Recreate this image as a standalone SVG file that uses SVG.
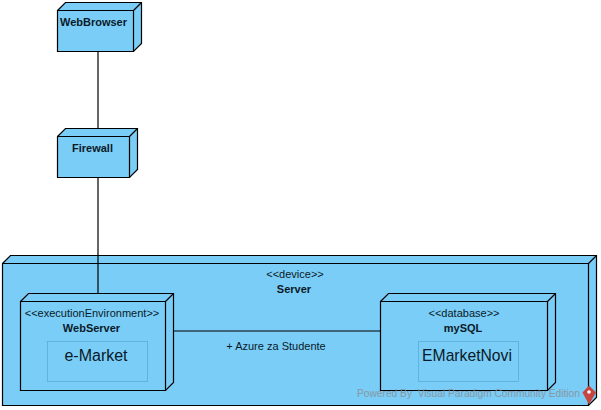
<svg xmlns="http://www.w3.org/2000/svg" width="601" height="410" viewBox="0 0 601 410">
<style>
.n{fill:#7acdf7;stroke:#000;stroke-width:1.2;stroke-linejoin:miter}
.e{fill:none;stroke:#000;stroke-width:1.2}
.a{fill:none;stroke:#4fa6d2;stroke-width:.8;opacity:.8}
text{font-family:"Liberation Sans",Arial,sans-serif;fill:#0a1a28;text-anchor:middle}
.s{font-size:11px}
.b{font-size:11px;font-weight:bold}
.l{font-size:16px}
</style>
<rect width="601" height="410" fill="#fff"/>
<g id="connectors">
<path class="e" d="M98 51V128M98 177V255"/>
</g>
<g id="WebBrowser">
<path class="n" d="M57.500 10.500L65.500 2.500H141.500V43.500L133.500 51.500H57.500Z"/>
<path class="e" d="M57.500 10.500H133.500V51.500M133.500 10.500L141.500 2.500"/>
<text class="b" x="93.500" y="26">WebBrowser</text>
</g>
<g id="Firewall">
<path class="n" d="M57.500 136.500L65.500 128.500H137.500V169.500L129.500 177.500H57.500Z"/>
<path class="e" d="M57.500 136.500H129.500V177.500M129.500 136.500L137.500 128.500"/>
<text class="b" x="92.500" y="152">Firewall</text>
</g>
<g id="Server">
<path class="n" d="M2.500 263.500L10.500 255.500H596.500V397.500L588.500 405.500H2.500Z"/>
<path class="e" d="M2.500 263.500H588.500V405.500M588.500 263.500L596.500 255.500"/>
<text class="s" x="295" y="278">&lt;&lt;device&gt;&gt;</text>
<text class="b" x="294" y="293">Server</text>
</g>
<g id="connectors-inner">
<path class="e" d="M98 255V293M174 331H380"/>
<text class="s" x="276" y="350">+ Azure za Studente</text>
</g>
<g id="WebServer">
<path class="n" d="M20.500 301.500L28.500 293.500H173.500V382.500L165.500 390.500H20.500Z"/>
<path class="e" d="M20.500 301.500H165.500V390.500M165.500 301.500L173.500 293.500"/>
<text class="s" x="92" y="317">&lt;&lt;executionEnvironment&gt;&gt;</text>
<text class="b" x="91.500" y="332">WebServer</text>
<rect class="a" x="47.500" y="341.500" width="100" height="40"/>
<text class="l" x="96" y="361">e-Market</text>
</g>
<g id="mySQL">
<path class="n" d="M380.500 301.500L388.500 293.500H555.500V382.500L547.500 390.500H380.500Z"/>
<path class="e" d="M380.500 301.500H547.500V390.500M547.500 301.500L555.500 293.500"/>
<text class="s" x="464" y="317">&lt;&lt;database&gt;&gt;</text>
<text class="b" x="463" y="332">mySQL</text>
<rect class="a" x="418.500" y="341.500" width="100" height="40"/>
<text class="l" x="467" y="361" style="font-size:15.700px">EMarketNovi</text>
</g>
<g id="watermark">
<text x="468.500" y="397" style="font-size:10.200px;fill:#8a8f94;opacity:.85;white-space:pre">Powered By  Visual Paradigm Community Edition</text>
<path d="M589 385.500L596 392.500L589 404.500L582.500 392.500Z" fill="#c8453f"/>
<circle cx="589" cy="392" r="1.800" fill="#fff"/>
</g>
</svg>
